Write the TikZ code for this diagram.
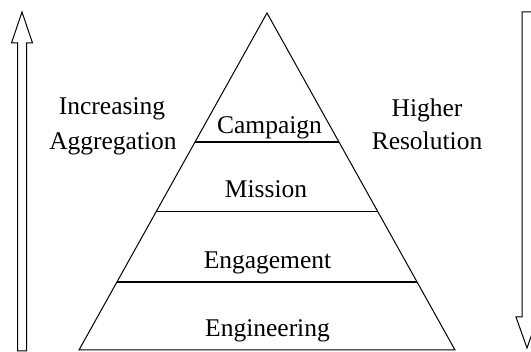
\documentclass[tikz,border=0pt]{standalone}
\usepackage{fontspec}
\setmainfont{Liberation Serif}
\usetikzlibrary{calc}
\begin{document}
\begin{tikzpicture}[x=1pt,y=1pt,
  lbl/.style={anchor=base,inner sep=0pt,font=\fontsize{25.5}{30}\selectfont},
  edge/.style={line width=1pt,black},
  tier/.style={line width=1.3pt,black},
  blockarrow/.style={line width=1pt,black,fill=white,line join=miter}]
\useasboundingbox (0,0) rectangle (531,352);
\clip (0,0) rectangle (531,352);
% pyramid
\coordinate (apex) at (267,339);
\coordinate (bl) at (79,2);
\coordinate (br) at (455,2);
\draw[edge] (bl) -- (apex) -- (br) -- cycle;
\coordinate (c1l) at ($(apex)!0.3828!(bl)$);
\coordinate (c1r) at ($(apex)!0.3828!(br)$);
\coordinate (c2l) at ($(apex)!0.5896!(bl)$);
\coordinate (c2r) at ($(apex)!0.5896!(br)$);
\coordinate (c3l) at ($(apex)!0.7982!(bl)$);
\coordinate (c3r) at ($(apex)!0.7982!(br)$);
\draw[tier] (c1l) -- (c1r);
\draw[tier] (c2l) -- (c2r);
\draw[tier] (c3l) -- (c3r);
% tier labels
\node[lbl] (campaign) at (269.5,218) {Campaign};
\node[lbl] (mission) at (266,154) {Mission};
\node[lbl] (engagement) at (267.5,83) {Engagement};
\node[lbl] (engineering) at (267.5,15) {Engineering};
% side labels
\node[lbl] (incr) at (112,237) {Increasing};
\node[lbl] (aggr) at (113,202) {Aggregation};
\node[lbl] (higher) at (427,235) {Higher};
\node[lbl] (resol) at (427,202) {Resolution};
% block arrows
\draw[blockarrow] (17.5,1) -- (17.5,309) -- (11.5,309) -- (22,340) -- (32.5,309) -- (26.5,309) -- (26.5,1) -- cycle;
\draw[blockarrow] (522,340) -- (522,35) -- (516,35) -- (527,4) -- (538,35) -- (532,35) -- (532,340) -- cycle;
\end{tikzpicture}
\end{document}
